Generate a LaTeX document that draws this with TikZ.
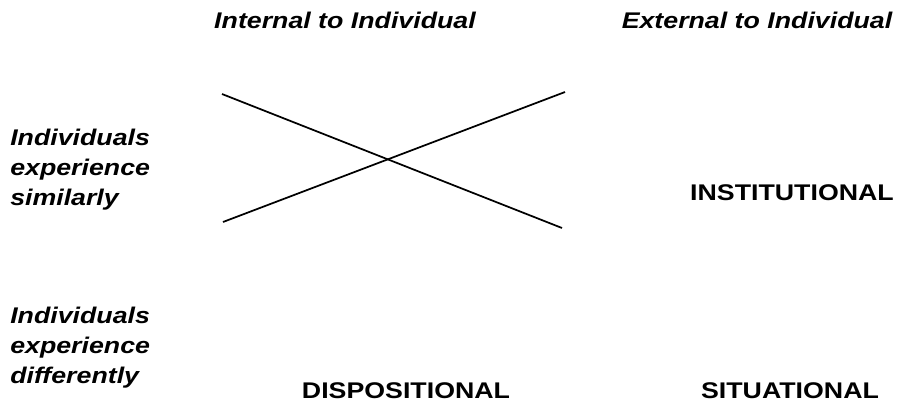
\documentclass[tikz,border=0pt]{standalone}
\usepackage{fontspec}
\setmainfont{Liberation Sans}[FakeStretch=1.18]

\begin{document}
\begin{tikzpicture}[x=0.75pt, y=-0.75pt,
    head/.style = {font=\bfseries\itshape\fontsize{17}{22.5}\selectfont, inner sep=0pt, anchor=base},
    side/.style = {font=\bfseries\itshape\fontsize{17}{22.5}\selectfont, inner sep=0pt, anchor=north west, align=left},
    kind/.style = {font=\bfseries\fontsize{17}{22.5}\selectfont, inner sep=0pt, anchor=base},
    cross/.style = {line width=1.3pt}]
    \useasboundingbox (0,0) rectangle (897,408);
    \node[head] (int) at (345,28) {Internal to Individual};
    \node[head] (ext) at (757,28) {External to Individual};
    \node[side] (sim) at (10,129) {Individuals\\experience\\similarly};
    \node[side] (dif) at (10,307) {Individuals\\experience\\differently};
    \node[kind] (inst) at (792,200) {INSTITUTIONAL};
    \node[kind] (disp) at (406,398) {DISPOSITIONAL};
    \node[kind] (sit) at (790,398) {SITUATIONAL};
    \coordinate (tl) at (222,94);
    \coordinate (br) at (562,228);
    \coordinate (bl) at (223,222);
    \coordinate (tr) at (565,92);
    \draw[cross] (tl) -- (br);
    \draw[cross] (bl) -- (tr);
\end{tikzpicture}
\end{document}
